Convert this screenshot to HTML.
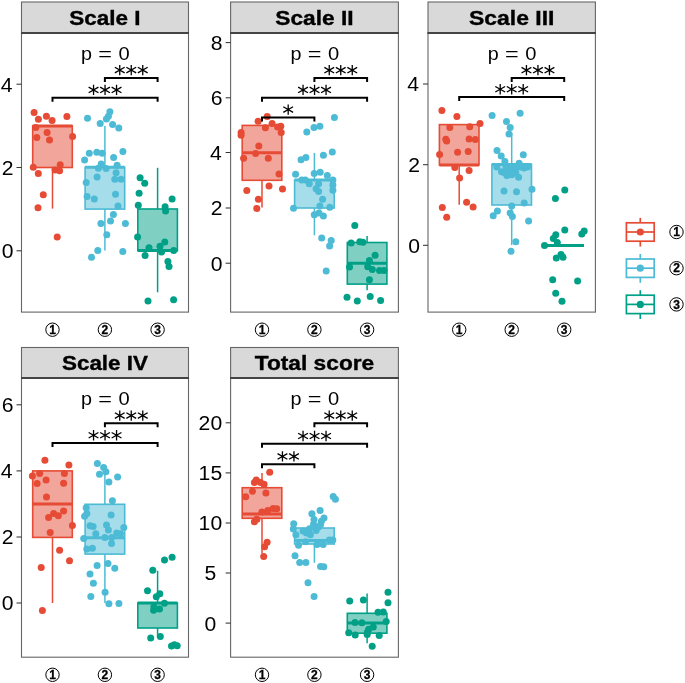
<!DOCTYPE html><html><head><meta charset="utf-8"><style>html,body{margin:0;padding:0;background:#fff;}svg{display:block;will-change:transform;}</style></head><body><svg width="685" height="683" viewBox="0 0 685 683" font-family="'Liberation Sans', sans-serif"><rect width="685" height="683" fill="#fff"/><rect x="21.5" y="2" width="167" height="31" fill="#D9D9D9" stroke="#666666" stroke-width="1.1"/><text x="105" y="24.7" text-anchor="middle" font-weight="bold" font-size="19.8" textLength="71.22" lengthAdjust="spacingAndGlyphs" stroke="#000" stroke-width="0.35">Scale I</text><rect x="21.5" y="33" width="167" height="279.1" fill="#fff"/><line x1="52.5" y1="167.5" x2="52.5" y2="208.6" stroke="#E64B35" stroke-width="1.5"/><rect x="32.7" y="125.9" width="39.6" height="41.6" fill="#F2A59A" stroke="#E64B35" stroke-width="1.6"/><line x1="32.7" y1="125.9" x2="72.3" y2="125.9" stroke="#E64B35" stroke-width="3"/><line x1="104.9" y1="126.1" x2="104.9" y2="167.3" stroke="#4DBBD5" stroke-width="1.5"/><line x1="104.9" y1="209.1" x2="104.9" y2="250.4" stroke="#4DBBD5" stroke-width="1.5"/><rect x="85.1" y="167.3" width="39.6" height="41.8" fill="#A6DDEA" stroke="#4DBBD5" stroke-width="1.6"/><line x1="85.1" y1="167.3" x2="124.7" y2="167.3" stroke="#4DBBD5" stroke-width="3"/><line x1="157.6" y1="167.8" x2="157.6" y2="209" stroke="#00A087" stroke-width="1.5"/><line x1="157.6" y1="250.6" x2="157.6" y2="292.3" stroke="#00A087" stroke-width="1.5"/><rect x="137.8" y="209" width="39.6" height="41.6" fill="#80CFC3" stroke="#00A087" stroke-width="1.6"/><line x1="137.8" y1="250.6" x2="177.4" y2="250.6" stroke="#00A087" stroke-width="3"/><g fill="#E64B35"><circle cx="34.1" cy="112.5" r="3.5"/><circle cx="38.4" cy="119.3" r="3.5"/><circle cx="46.4" cy="116.2" r="3.5"/><circle cx="52.1" cy="120.5" r="3.5"/><circle cx="66.9" cy="116.4" r="3.5"/><circle cx="35.8" cy="127.6" r="3.5"/><circle cx="47.1" cy="132.6" r="3.5"/><circle cx="36.8" cy="137.6" r="3.5"/><circle cx="49.5" cy="140.1" r="3.5"/><circle cx="72.6" cy="136.5" r="3.5"/><circle cx="33.3" cy="167.2" r="3.5"/><circle cx="38.3" cy="173.4" r="3.5"/><circle cx="55.1" cy="169.9" r="3.5"/><circle cx="60.2" cy="164.7" r="3.5"/><circle cx="59.6" cy="170.7" r="3.5"/><circle cx="43.3" cy="194.7" r="3.5"/><circle cx="38" cy="207.7" r="3.5"/><circle cx="57.2" cy="237" r="3.5"/></g><g fill="#4DBBD5"><circle cx="87.5" cy="118.3" r="3.5"/><circle cx="109.9" cy="111.8" r="3.5"/><circle cx="108.4" cy="116.2" r="3.5"/><circle cx="106.4" cy="118.9" r="3.5"/><circle cx="100.2" cy="123.6" r="3.5"/><circle cx="112.6" cy="124.6" r="3.5"/><circle cx="118.8" cy="128" r="3.5"/><circle cx="89.3" cy="153.3" r="3.5"/><circle cx="96.8" cy="152.3" r="3.5"/><circle cx="102.2" cy="153.3" r="3.5"/><circle cx="122.9" cy="151.6" r="3.5"/><circle cx="84.6" cy="160" r="3.5"/><circle cx="113.6" cy="157.5" r="3.5"/><circle cx="101.2" cy="164.1" r="3.5"/><circle cx="98.4" cy="168.2" r="3.5"/><circle cx="106.1" cy="168.5" r="3.5"/><circle cx="117.1" cy="165.3" r="3.5"/><circle cx="116.1" cy="172.8" r="3.5"/><circle cx="97.1" cy="177" r="3.5"/><circle cx="114.8" cy="179.2" r="3.5"/><circle cx="121.1" cy="179.2" r="3.5"/><circle cx="86.2" cy="182.4" r="3.5"/><circle cx="87.1" cy="196.4" r="3.5"/><circle cx="94.3" cy="199" r="3.5"/><circle cx="115.5" cy="194.3" r="3.5"/><circle cx="118" cy="205.9" r="3.5"/><circle cx="113.4" cy="214.6" r="3.5"/><circle cx="110.5" cy="221" r="3.5"/><circle cx="100.9" cy="223.5" r="3.5"/><circle cx="125.4" cy="223.6" r="3.5"/><circle cx="106.8" cy="234.7" r="3.5"/><circle cx="97.8" cy="250.5" r="3.5"/><circle cx="91.5" cy="257.3" r="3.5"/><circle cx="122.8" cy="251.4" r="3.5"/></g><g fill="#00A087"><circle cx="140.1" cy="177.8" r="3.5"/><circle cx="144.7" cy="183.2" r="3.5"/><circle cx="139.1" cy="193.3" r="3.5"/><circle cx="138.3" cy="205.2" r="3.5"/><circle cx="172.1" cy="199.1" r="3.5"/><circle cx="165.1" cy="206.8" r="3.5"/><circle cx="165.6" cy="210.9" r="3.5"/><circle cx="137.6" cy="237" r="3.5"/><circle cx="164.8" cy="242.1" r="3.5"/><circle cx="160" cy="246.2" r="3.5"/><circle cx="149" cy="247.7" r="3.5"/><circle cx="173.7" cy="250.6" r="3.5"/><circle cx="161.5" cy="252" r="3.5"/><circle cx="145.1" cy="255.5" r="3.5"/><circle cx="167.9" cy="261.4" r="3.5"/><circle cx="169" cy="266.6" r="3.5"/><circle cx="148" cy="301" r="3.5"/><circle cx="173.6" cy="299.7" r="3.5"/></g><rect x="21.5" y="33" width="167" height="279.1" fill="none" stroke="#666666" stroke-width="1.1"/><line x1="21.05" y1="33" x2="188.95" y2="33" stroke="#444" stroke-width="2"/><line x1="16.5" y1="84.2" x2="21.5" y2="84.2" stroke="#333" stroke-width="1.05"/><text x="12.6" y="91.6" text-anchor="end" font-size="19.6" textLength="11.77" lengthAdjust="spacingAndGlyphs">4</text><line x1="16.5" y1="167.5" x2="21.5" y2="167.5" stroke="#333" stroke-width="1.05"/><text x="13.5" y="174.9" text-anchor="end" font-size="19.6" textLength="11.77" lengthAdjust="spacingAndGlyphs">2</text><line x1="16.5" y1="250.8" x2="21.5" y2="250.8" stroke="#333" stroke-width="1.05"/><text x="13.5" y="258.2" text-anchor="end" font-size="19.6" textLength="11.77" lengthAdjust="spacingAndGlyphs">0</text><circle cx="52.5" cy="329.7" r="6.7" fill="none" stroke="#000" stroke-width="1"/><text x="52.5" y="333.9" text-anchor="middle" font-size="12" font-weight="bold" stroke="#000" stroke-width="0.3">1</text><circle cx="104.9" cy="329.7" r="6.7" fill="none" stroke="#000" stroke-width="1"/><text x="104.9" y="333.9" text-anchor="middle" font-size="12" font-weight="bold" stroke="#000" stroke-width="0.3">2</text><circle cx="157.6" cy="329.7" r="6.7" fill="none" stroke="#000" stroke-width="1"/><text x="157.6" y="333.9" text-anchor="middle" font-size="12" font-weight="bold" stroke="#000" stroke-width="0.3">3</text><text x="86.45" y="59.8" text-anchor="middle" font-size="19.0" textLength="11.0" lengthAdjust="spacingAndGlyphs">p</text><text x="105.05" y="59.8" text-anchor="middle" font-size="19.0" textLength="13.7" lengthAdjust="spacingAndGlyphs">=</text><text x="124.15" y="59.8" text-anchor="middle" font-size="19.0" textLength="11.2" lengthAdjust="spacingAndGlyphs">0</text><path d="M104.9 81.9V77.9H157.6V81.9" fill="none" stroke="#000" stroke-width="2.0"/><g stroke="#000" stroke-width="1.3" stroke-linecap="butt"><path d="M119.75 64.95V75.25M114.85 67.3L124.65 72.9M114.85 72.9L124.65 67.3"/><path d="M131.25 64.95V75.25M126.35 67.3L136.15 72.9M126.35 72.9L136.15 67.3"/><path d="M142.75 64.95V75.25M137.85 67.3L147.65 72.9M137.85 72.9L147.65 67.3"/></g><path d="M52.5 101.75V97.75H157.6V101.75" fill="none" stroke="#000" stroke-width="2.0"/><g stroke="#000" stroke-width="1.3" stroke-linecap="butt"><path d="M93.55 84.8V95.1M88.65 87.15L98.45 92.75M88.65 92.75L98.45 87.15"/><path d="M105.05 84.8V95.1M100.15 87.15L109.95 92.75M100.15 92.75L109.95 87.15"/><path d="M116.55 84.8V95.1M111.65 87.15L121.45 92.75M111.65 92.75L121.45 87.15"/></g><rect x="230.6" y="2" width="167.8" height="31" fill="#D9D9D9" stroke="#666666" stroke-width="1.1"/><text x="314.5" y="24.7" text-anchor="middle" font-weight="bold" font-size="19.8" textLength="78.33" lengthAdjust="spacingAndGlyphs" stroke="#000" stroke-width="0.35">Scale II</text><rect x="230.6" y="33" width="167.8" height="279.1" fill="#fff"/><line x1="262" y1="180.3" x2="262" y2="207.6" stroke="#E64B35" stroke-width="1.5"/><rect x="242.2" y="125.4" width="39.6" height="54.9" fill="#F2A59A" stroke="#E64B35" stroke-width="1.6"/><line x1="242.2" y1="152.8" x2="281.8" y2="152.8" stroke="#E64B35" stroke-width="3"/><line x1="314.4" y1="152.9" x2="314.4" y2="180" stroke="#4DBBD5" stroke-width="1.5"/><line x1="314.4" y1="208" x2="314.4" y2="235.3" stroke="#4DBBD5" stroke-width="1.5"/><rect x="294.6" y="180" width="39.6" height="28" fill="#A6DDEA" stroke="#4DBBD5" stroke-width="1.6"/><line x1="294.6" y1="180" x2="334.2" y2="180" stroke="#4DBBD5" stroke-width="3"/><line x1="367.1" y1="236.1" x2="367.1" y2="242.5" stroke="#00A087" stroke-width="1.5"/><line x1="367.1" y1="284.1" x2="367.1" y2="290.3" stroke="#00A087" stroke-width="1.5"/><rect x="347.3" y="242.5" width="39.6" height="41.6" fill="#80CFC3" stroke="#00A087" stroke-width="1.6"/><line x1="347.3" y1="263.3" x2="386.9" y2="263.3" stroke="#00A087" stroke-width="3"/><g fill="#E64B35"><circle cx="267.2" cy="116.4" r="3.5"/><circle cx="258.1" cy="121.2" r="3.5"/><circle cx="272.1" cy="123.4" r="3.5"/><circle cx="280.8" cy="126.2" r="3.5"/><circle cx="265.4" cy="127.7" r="3.5"/><circle cx="281.2" cy="132.5" r="3.5"/><circle cx="277.6" cy="126.9" r="3.5"/><circle cx="241.1" cy="132.4" r="3.5"/><circle cx="241.1" cy="135.3" r="3.5"/><circle cx="258.8" cy="146.1" r="3.5"/><circle cx="255.6" cy="153.5" r="3.5"/><circle cx="243.6" cy="158.3" r="3.5"/><circle cx="268.3" cy="158.3" r="3.5"/><circle cx="279" cy="174.1" r="3.5"/><circle cx="269" cy="186" r="3.5"/><circle cx="246.8" cy="190.6" r="3.5"/><circle cx="282.5" cy="189.1" r="3.5"/><circle cx="258.4" cy="199.3" r="3.5"/><circle cx="256.8" cy="208.4" r="3.5"/></g><g fill="#4DBBD5"><circle cx="334.4" cy="117.4" r="3.5"/><circle cx="319.9" cy="126.2" r="3.5"/><circle cx="314" cy="127.4" r="3.5"/><circle cx="306.8" cy="132.1" r="3.5"/><circle cx="332.3" cy="152" r="3.5"/><circle cx="323.4" cy="155.2" r="3.5"/><circle cx="305.9" cy="157.6" r="3.5"/><circle cx="301" cy="159.8" r="3.5"/><circle cx="295.6" cy="174.2" r="3.5"/><circle cx="314.2" cy="173.6" r="3.5"/><circle cx="320.2" cy="172.3" r="3.5"/><circle cx="327.3" cy="175.5" r="3.5"/><circle cx="332.9" cy="180" r="3.5"/><circle cx="301.8" cy="180" r="3.5"/><circle cx="305.3" cy="180" r="3.5"/><circle cx="309.3" cy="183.7" r="3.5"/><circle cx="318.6" cy="183.7" r="3.5"/><circle cx="332.9" cy="184.9" r="3.5"/><circle cx="316.1" cy="188.7" r="3.5"/><circle cx="318.6" cy="191.4" r="3.5"/><circle cx="332.9" cy="190.2" r="3.5"/><circle cx="322.6" cy="199.2" r="3.5"/><circle cx="319.9" cy="206.1" r="3.5"/><circle cx="329.8" cy="207.3" r="3.5"/><circle cx="293.5" cy="208.2" r="3.5"/><circle cx="314.3" cy="214.8" r="3.5"/><circle cx="318.9" cy="212.9" r="3.5"/><circle cx="323.4" cy="216" r="3.5"/><circle cx="321.7" cy="237.9" r="3.5"/><circle cx="331.2" cy="240.4" r="3.5"/><circle cx="329.6" cy="245.9" r="3.5"/><circle cx="326.2" cy="271" r="3.5"/></g><g fill="#00A087"><circle cx="354.8" cy="225.5" r="3.5"/><circle cx="351.1" cy="243" r="3.5"/><circle cx="359.8" cy="241.8" r="3.5"/><circle cx="362.9" cy="242.2" r="3.5"/><circle cx="375.1" cy="255.2" r="3.5"/><circle cx="369.4" cy="260.4" r="3.5"/><circle cx="349.5" cy="267" r="3.5"/><circle cx="367.7" cy="266.7" r="3.5"/><circle cx="372.3" cy="269.5" r="3.5"/><circle cx="379.5" cy="270.4" r="3.5"/><circle cx="384.1" cy="270.4" r="3.5"/><circle cx="369.4" cy="279.7" r="3.5"/><circle cx="347" cy="297.2" r="3.5"/><circle cx="357.3" cy="300.9" r="3.5"/><circle cx="370.2" cy="296.5" r="3.5"/><circle cx="380.6" cy="300.6" r="3.5"/></g><rect x="230.6" y="33" width="167.8" height="279.1" fill="none" stroke="#666666" stroke-width="1.1"/><line x1="230.15" y1="33" x2="398.85" y2="33" stroke="#444" stroke-width="2"/><line x1="225.6" y1="42.6" x2="230.6" y2="42.6" stroke="#333" stroke-width="1.05"/><text x="222.6" y="50" text-anchor="end" font-size="19.6" textLength="11.77" lengthAdjust="spacingAndGlyphs">8</text><line x1="225.6" y1="97.8" x2="230.6" y2="97.8" stroke="#333" stroke-width="1.05"/><text x="222.6" y="105.2" text-anchor="end" font-size="19.6" textLength="11.77" lengthAdjust="spacingAndGlyphs">6</text><line x1="225.6" y1="152.5" x2="230.6" y2="152.5" stroke="#333" stroke-width="1.05"/><text x="221.7" y="159.9" text-anchor="end" font-size="19.6" textLength="11.77" lengthAdjust="spacingAndGlyphs">4</text><line x1="225.6" y1="208" x2="230.6" y2="208" stroke="#333" stroke-width="1.05"/><text x="222.6" y="215.4" text-anchor="end" font-size="19.6" textLength="11.77" lengthAdjust="spacingAndGlyphs">2</text><line x1="225.6" y1="263.2" x2="230.6" y2="263.2" stroke="#333" stroke-width="1.05"/><text x="222.6" y="270.6" text-anchor="end" font-size="19.6" textLength="11.77" lengthAdjust="spacingAndGlyphs">0</text><circle cx="262" cy="329.7" r="6.7" fill="none" stroke="#000" stroke-width="1"/><text x="262" y="333.9" text-anchor="middle" font-size="12" font-weight="bold" stroke="#000" stroke-width="0.3">1</text><circle cx="314.4" cy="329.7" r="6.7" fill="none" stroke="#000" stroke-width="1"/><text x="314.4" y="333.9" text-anchor="middle" font-size="12" font-weight="bold" stroke="#000" stroke-width="0.3">2</text><circle cx="367.1" cy="329.7" r="6.7" fill="none" stroke="#000" stroke-width="1"/><text x="367.1" y="333.9" text-anchor="middle" font-size="12" font-weight="bold" stroke="#000" stroke-width="0.3">3</text><text x="295.95" y="59.8" text-anchor="middle" font-size="19.0" textLength="11.0" lengthAdjust="spacingAndGlyphs">p</text><text x="314.55" y="59.8" text-anchor="middle" font-size="19.0" textLength="13.7" lengthAdjust="spacingAndGlyphs">=</text><text x="333.65" y="59.8" text-anchor="middle" font-size="19.0" textLength="11.2" lengthAdjust="spacingAndGlyphs">0</text><path d="M314.4 82V78H367.1V82" fill="none" stroke="#000" stroke-width="2.0"/><g stroke="#000" stroke-width="1.3" stroke-linecap="butt"><path d="M329.25 65.05V75.35M324.35 67.4L334.15 73M324.35 73L334.15 67.4"/><path d="M340.75 65.05V75.35M335.85 67.4L345.65 73M335.85 73L345.65 67.4"/><path d="M352.25 65.05V75.35M347.35 67.4L357.15 73M347.35 73L357.15 67.4"/></g><path d="M262 101.75V97.75H367.1V101.75" fill="none" stroke="#000" stroke-width="2.0"/><g stroke="#000" stroke-width="1.3" stroke-linecap="butt"><path d="M303.05 84.8V95.1M298.15 87.15L307.95 92.75M298.15 92.75L307.95 87.15"/><path d="M314.55 84.8V95.1M309.65 87.15L319.45 92.75M309.65 92.75L319.45 87.15"/><path d="M326.05 84.8V95.1M321.15 87.15L330.95 92.75M321.15 92.75L330.95 87.15"/></g><path d="M262 121.4V117.4H314.4V121.4" fill="none" stroke="#000" stroke-width="2.0"/><g stroke="#000" stroke-width="1.3" stroke-linecap="butt"><path d="M288.2 104.45V114.75M283.3 106.8L293.1 112.4M283.3 112.4L293.1 106.8"/></g><rect x="428" y="2" width="167.4" height="31" fill="#D9D9D9" stroke="#666666" stroke-width="1.1"/><text x="511.7" y="24.7" text-anchor="middle" font-weight="bold" font-size="19.8" textLength="85.43" lengthAdjust="spacingAndGlyphs" stroke="#000" stroke-width="0.35">Scale III</text><rect x="428" y="33" width="167.4" height="279.1" fill="#fff"/><line x1="459.2" y1="165" x2="459.2" y2="204.8" stroke="#E64B35" stroke-width="1.5"/><rect x="439.4" y="124.6" width="39.6" height="40.4" fill="#F2A59A" stroke="#E64B35" stroke-width="1.6"/><line x1="439.4" y1="165" x2="479" y2="165" stroke="#E64B35" stroke-width="3"/><line x1="511.7" y1="133" x2="511.7" y2="164.4" stroke="#4DBBD5" stroke-width="1.5"/><line x1="511.7" y1="205" x2="511.7" y2="245.1" stroke="#4DBBD5" stroke-width="1.5"/><rect x="491.9" y="164.4" width="39.6" height="40.6" fill="#A6DDEA" stroke="#4DBBD5" stroke-width="1.6"/><line x1="491.9" y1="164.4" x2="531.5" y2="164.4" stroke="#4DBBD5" stroke-width="3"/><line x1="544.4" y1="245.5" x2="584" y2="245.5" stroke="#00A087" stroke-width="3"/><g fill="#E64B35"><circle cx="441.9" cy="110.6" r="3.5"/><circle cx="456.9" cy="116.4" r="3.5"/><circle cx="480" cy="123.4" r="3.5"/><circle cx="449.8" cy="127.6" r="3.5"/><circle cx="469.7" cy="126.8" r="3.5"/><circle cx="445.8" cy="139.2" r="3.5"/><circle cx="446.7" cy="141.1" r="3.5"/><circle cx="469.1" cy="139" r="3.5"/><circle cx="475.3" cy="139.6" r="3.5"/><circle cx="439.6" cy="154.4" r="3.5"/><circle cx="457.6" cy="152.3" r="3.5"/><circle cx="468.2" cy="151.6" r="3.5"/><circle cx="454.8" cy="167.6" r="3.5"/><circle cx="469.1" cy="170.6" r="3.5"/><circle cx="459.6" cy="177.9" r="3.5"/><circle cx="466.6" cy="202.3" r="3.5"/><circle cx="473.1" cy="207" r="3.5"/><circle cx="442.3" cy="207.5" r="3.5"/><circle cx="446.7" cy="217.2" r="3.5"/></g><g fill="#4DBBD5"><circle cx="492.1" cy="115.6" r="3.5"/><circle cx="520.1" cy="113.3" r="3.5"/><circle cx="506.5" cy="121.4" r="3.5"/><circle cx="510.2" cy="127.6" r="3.5"/><circle cx="509" cy="134" r="3.5"/><circle cx="497" cy="150.4" r="3.5"/><circle cx="501.2" cy="156" r="3.5"/><circle cx="504.9" cy="161.4" r="3.5"/><circle cx="523.3" cy="154.8" r="3.5"/><circle cx="519.1" cy="163.3" r="3.5"/><circle cx="496.8" cy="166.9" r="3.5"/><circle cx="501.5" cy="171.8" r="3.5"/><circle cx="506.9" cy="175.6" r="3.5"/><circle cx="512.4" cy="170.7" r="3.5"/><circle cx="518.6" cy="177.2" r="3.5"/><circle cx="527.6" cy="167" r="3.5"/><circle cx="511.7" cy="174.7" r="3.5"/><circle cx="506" cy="166.5" r="3.5"/><circle cx="510.5" cy="166.8" r="3.5"/><circle cx="515" cy="168" r="3.5"/><circle cx="520.5" cy="167" r="3.5"/><circle cx="524" cy="168" r="3.5"/><circle cx="515.8" cy="172.5" r="3.5"/><circle cx="504.5" cy="172.8" r="3.5"/><circle cx="509.5" cy="172" r="3.5"/><circle cx="504" cy="191.1" r="3.5"/><circle cx="516.5" cy="191.7" r="3.5"/><circle cx="532" cy="189.2" r="3.5"/><circle cx="524.2" cy="202.9" r="3.5"/><circle cx="511.7" cy="206" r="3.5"/><circle cx="497.4" cy="211" r="3.5"/><circle cx="493.2" cy="215.8" r="3.5"/><circle cx="510.2" cy="212.9" r="3.5"/><circle cx="512.4" cy="216.6" r="3.5"/><circle cx="528.6" cy="220.9" r="3.5"/><circle cx="515.8" cy="241.8" r="3.5"/><circle cx="511" cy="251.3" r="3.5"/></g><g fill="#00A087"><circle cx="564.8" cy="189.9" r="3.5"/><circle cx="555.4" cy="198.5" r="3.5"/><circle cx="564.8" cy="230" r="3.5"/><circle cx="581.8" cy="234" r="3.5"/><circle cx="584.2" cy="231" r="3.5"/><circle cx="555.8" cy="234.8" r="3.5"/><circle cx="553.3" cy="238.6" r="3.5"/><circle cx="557.3" cy="242.6" r="3.5"/><circle cx="544.5" cy="245.6" r="3.5"/><circle cx="556.3" cy="258" r="3.5"/><circle cx="563" cy="257.3" r="3.5"/><circle cx="561" cy="254.5" r="3.5"/><circle cx="552.7" cy="279.7" r="3.5"/><circle cx="577.6" cy="281.1" r="3.5"/><circle cx="555.7" cy="293.3" r="3.5"/><circle cx="562" cy="301.2" r="3.5"/></g><rect x="428" y="33" width="167.4" height="279.1" fill="none" stroke="#666666" stroke-width="1.1"/><line x1="427.55" y1="33" x2="595.85" y2="33" stroke="#444" stroke-width="2"/><line x1="423" y1="84" x2="428" y2="84" stroke="#333" stroke-width="1.05"/><text x="419.1" y="91.4" text-anchor="end" font-size="19.6" textLength="11.77" lengthAdjust="spacingAndGlyphs">4</text><line x1="423" y1="164.7" x2="428" y2="164.7" stroke="#333" stroke-width="1.05"/><text x="420" y="172.1" text-anchor="end" font-size="19.6" textLength="11.77" lengthAdjust="spacingAndGlyphs">2</text><line x1="423" y1="245.3" x2="428" y2="245.3" stroke="#333" stroke-width="1.05"/><text x="420" y="252.7" text-anchor="end" font-size="19.6" textLength="11.77" lengthAdjust="spacingAndGlyphs">0</text><circle cx="459.2" cy="329.7" r="6.7" fill="none" stroke="#000" stroke-width="1"/><text x="459.2" y="333.9" text-anchor="middle" font-size="12" font-weight="bold" stroke="#000" stroke-width="0.3">1</text><circle cx="511.7" cy="329.7" r="6.7" fill="none" stroke="#000" stroke-width="1"/><text x="511.7" y="333.9" text-anchor="middle" font-size="12" font-weight="bold" stroke="#000" stroke-width="0.3">2</text><circle cx="564.2" cy="329.7" r="6.7" fill="none" stroke="#000" stroke-width="1"/><text x="564.2" y="333.9" text-anchor="middle" font-size="12" font-weight="bold" stroke="#000" stroke-width="0.3">3</text><text x="493.15" y="59.8" text-anchor="middle" font-size="19.0" textLength="11.0" lengthAdjust="spacingAndGlyphs">p</text><text x="511.75" y="59.8" text-anchor="middle" font-size="19.0" textLength="13.7" lengthAdjust="spacingAndGlyphs">=</text><text x="530.85" y="59.8" text-anchor="middle" font-size="19.0" textLength="11.2" lengthAdjust="spacingAndGlyphs">0</text><path d="M511.7 81.95V77.95H564.2V81.95" fill="none" stroke="#000" stroke-width="2.0"/><g stroke="#000" stroke-width="1.3" stroke-linecap="butt"><path d="M526.45 65V75.3M521.55 67.35L531.35 72.95M521.55 72.95L531.35 67.35"/><path d="M537.95 65V75.3M533.05 67.35L542.85 72.95M533.05 72.95L542.85 67.35"/><path d="M549.45 65V75.3M544.55 67.35L554.35 72.95M544.55 72.95L554.35 67.35"/></g><path d="M459.2 101.05V97.05H564.2V101.05" fill="none" stroke="#000" stroke-width="2.0"/><g stroke="#000" stroke-width="1.3" stroke-linecap="butt"><path d="M500.2 84.1V94.4M495.3 86.45L505.1 92.05M495.3 92.05L505.1 86.45"/><path d="M511.7 84.1V94.4M506.8 86.45L516.6 92.05M506.8 92.05L516.6 86.45"/><path d="M523.2 84.1V94.4M518.3 86.45L528.1 92.05M518.3 92.05L528.1 86.45"/></g><rect x="21.5" y="347.5" width="167" height="30.5" fill="#D9D9D9" stroke="#666666" stroke-width="1.1"/><text x="105" y="370.2" text-anchor="middle" font-weight="bold" font-size="19.8" textLength="86.01" lengthAdjust="spacingAndGlyphs" stroke="#000" stroke-width="0.35">Scale IV</text><rect x="21.5" y="378" width="167" height="279.2" fill="#fff"/><line x1="52.5" y1="537.4" x2="52.5" y2="603" stroke="#E64B35" stroke-width="1.5"/><rect x="32.7" y="470.9" width="39.6" height="66.5" fill="#F2A59A" stroke="#E64B35" stroke-width="1.6"/><line x1="32.7" y1="504.1" x2="72.3" y2="504.1" stroke="#E64B35" stroke-width="3"/><line x1="104.9" y1="470.9" x2="104.9" y2="504.3" stroke="#4DBBD5" stroke-width="1.5"/><line x1="104.9" y1="554.1" x2="104.9" y2="603" stroke="#4DBBD5" stroke-width="1.5"/><rect x="85.1" y="504.3" width="39.6" height="49.8" fill="#A6DDEA" stroke="#4DBBD5" stroke-width="1.6"/><line x1="85.1" y1="537.8" x2="124.7" y2="537.8" stroke="#4DBBD5" stroke-width="3"/><line x1="157.6" y1="570.8" x2="157.6" y2="603" stroke="#00A087" stroke-width="1.5"/><line x1="157.6" y1="628" x2="157.6" y2="636.1" stroke="#00A087" stroke-width="1.5"/><rect x="137.8" y="603" width="39.6" height="25" fill="#80CFC3" stroke="#00A087" stroke-width="1.6"/><line x1="137.8" y1="603" x2="177.4" y2="603" stroke="#00A087" stroke-width="3"/><g fill="#E64B35"><circle cx="44.9" cy="460.2" r="3.5"/><circle cx="68.9" cy="464.9" r="3.5"/><circle cx="39.7" cy="473.4" r="3.5"/><circle cx="32.4" cy="476.1" r="3.5"/><circle cx="64.4" cy="473.6" r="3.5"/><circle cx="46.1" cy="480.1" r="3.5"/><circle cx="37.1" cy="483.6" r="3.5"/><circle cx="63.6" cy="483.3" r="3.5"/><circle cx="46.5" cy="497" r="3.5"/><circle cx="63.6" cy="510.9" r="3.5"/><circle cx="53.6" cy="513.4" r="3.5"/><circle cx="58.3" cy="515.8" r="3.5"/><circle cx="48.6" cy="517.4" r="3.5"/><circle cx="72.4" cy="525.6" r="3.5"/><circle cx="50.2" cy="532.4" r="3.5"/><circle cx="59.6" cy="550.2" r="3.5"/><circle cx="69.5" cy="560.8" r="3.5"/><circle cx="41.2" cy="567.6" r="3.5"/><circle cx="42.4" cy="610.5" r="3.5"/></g><g fill="#4DBBD5"><circle cx="97.4" cy="463.6" r="3.5"/><circle cx="103.6" cy="467.4" r="3.5"/><circle cx="105.9" cy="471.7" r="3.5"/><circle cx="99.5" cy="474.2" r="3.5"/><circle cx="117.6" cy="477" r="3.5"/><circle cx="108.9" cy="481.9" r="3.5"/><circle cx="112.4" cy="500.7" r="3.5"/><circle cx="86.2" cy="507.8" r="3.5"/><circle cx="86.8" cy="513.4" r="3.5"/><circle cx="84.6" cy="516.2" r="3.5"/><circle cx="111.1" cy="515" r="3.5"/><circle cx="90" cy="525.8" r="3.5"/><circle cx="93.1" cy="526.5" r="3.5"/><circle cx="106.5" cy="525" r="3.5"/><circle cx="108.4" cy="529.9" r="3.5"/><circle cx="123.8" cy="527.4" r="3.5"/><circle cx="95.8" cy="533.7" r="3.5"/><circle cx="116.7" cy="533" r="3.5"/><circle cx="120.4" cy="533.7" r="3.5"/><circle cx="83.7" cy="538.4" r="3.5"/><circle cx="104.9" cy="537.4" r="3.5"/><circle cx="111.7" cy="537.4" r="3.5"/><circle cx="111.5" cy="543.4" r="3.5"/><circle cx="86.8" cy="548.9" r="3.5"/><circle cx="92.4" cy="548.2" r="3.5"/><circle cx="97.1" cy="565.4" r="3.5"/><circle cx="108" cy="563.5" r="3.5"/><circle cx="114.8" cy="568.3" r="3.5"/><circle cx="90" cy="574.1" r="3.5"/><circle cx="93.4" cy="583.3" r="3.5"/><circle cx="105.1" cy="592.3" r="3.5"/><circle cx="90.8" cy="596.4" r="3.5"/><circle cx="108.9" cy="603.8" r="3.5"/><circle cx="118.9" cy="603.5" r="3.5"/></g><g fill="#00A087"><circle cx="172.1" cy="557.3" r="3.5"/><circle cx="164.5" cy="560" r="3.5"/><circle cx="152.8" cy="570.2" r="3.5"/><circle cx="147.5" cy="590.8" r="3.5"/><circle cx="159.8" cy="593.7" r="3.5"/><circle cx="156.3" cy="596.8" r="3.5"/><circle cx="164.4" cy="603.3" r="3.5"/><circle cx="153.9" cy="606.7" r="3.5"/><circle cx="159.5" cy="609.1" r="3.5"/><circle cx="153.6" cy="610.3" r="3.5"/><circle cx="150.7" cy="638" r="3.5"/><circle cx="160.3" cy="636.4" r="3.5"/><circle cx="171.5" cy="646" r="3.5"/><circle cx="177.2" cy="645.7" r="3.5"/><circle cx="174.4" cy="644.7" r="3.5"/></g><rect x="21.5" y="378" width="167" height="279.2" fill="none" stroke="#666666" stroke-width="1.1"/><line x1="21.05" y1="378" x2="188.95" y2="378" stroke="#444" stroke-width="2"/><line x1="16.5" y1="404.8" x2="21.5" y2="404.8" stroke="#333" stroke-width="1.05"/><text x="13.5" y="412.2" text-anchor="end" font-size="19.6" textLength="11.77" lengthAdjust="spacingAndGlyphs">6</text><line x1="16.5" y1="470.9" x2="21.5" y2="470.9" stroke="#333" stroke-width="1.05"/><text x="12.6" y="478.3" text-anchor="end" font-size="19.6" textLength="11.77" lengthAdjust="spacingAndGlyphs">4</text><line x1="16.5" y1="537" x2="21.5" y2="537" stroke="#333" stroke-width="1.05"/><text x="13.5" y="544.4" text-anchor="end" font-size="19.6" textLength="11.77" lengthAdjust="spacingAndGlyphs">2</text><line x1="16.5" y1="603" x2="21.5" y2="603" stroke="#333" stroke-width="1.05"/><text x="13.5" y="610.4" text-anchor="end" font-size="19.6" textLength="11.77" lengthAdjust="spacingAndGlyphs">0</text><circle cx="52.5" cy="674.8" r="6.7" fill="none" stroke="#000" stroke-width="1"/><text x="52.5" y="679" text-anchor="middle" font-size="12" font-weight="bold" stroke="#000" stroke-width="0.3">1</text><circle cx="104.9" cy="674.8" r="6.7" fill="none" stroke="#000" stroke-width="1"/><text x="104.9" y="679" text-anchor="middle" font-size="12" font-weight="bold" stroke="#000" stroke-width="0.3">2</text><circle cx="157.6" cy="674.8" r="6.7" fill="none" stroke="#000" stroke-width="1"/><text x="157.6" y="679" text-anchor="middle" font-size="12" font-weight="bold" stroke="#000" stroke-width="0.3">3</text><text x="86.45" y="405.3" text-anchor="middle" font-size="19.0" textLength="11.0" lengthAdjust="spacingAndGlyphs">p</text><text x="105.05" y="405.3" text-anchor="middle" font-size="19.0" textLength="13.7" lengthAdjust="spacingAndGlyphs">=</text><text x="124.15" y="405.3" text-anchor="middle" font-size="19.0" textLength="11.2" lengthAdjust="spacingAndGlyphs">0</text><path d="M104.9 427.35V423.35H157.6V427.35" fill="none" stroke="#000" stroke-width="2.0"/><g stroke="#000" stroke-width="1.3" stroke-linecap="butt"><path d="M119.75 410.4V420.7M114.85 412.75L124.65 418.35M114.85 418.35L124.65 412.75"/><path d="M131.25 410.4V420.7M126.35 412.75L136.15 418.35M126.35 418.35L136.15 412.75"/><path d="M142.75 410.4V420.7M137.85 412.75L147.65 418.35M137.85 418.35L147.65 412.75"/></g><path d="M52.5 447.05V443.05H157.6V447.05" fill="none" stroke="#000" stroke-width="2.0"/><g stroke="#000" stroke-width="1.3" stroke-linecap="butt"><path d="M93.55 430.1V440.4M88.65 432.45L98.45 438.05M88.65 438.05L98.45 432.45"/><path d="M105.05 430.1V440.4M100.15 432.45L109.95 438.05M100.15 438.05L109.95 432.45"/><path d="M116.55 430.1V440.4M111.65 432.45L121.45 438.05M111.65 438.05L121.45 432.45"/></g><rect x="230.6" y="347.5" width="167.8" height="30.5" fill="#D9D9D9" stroke="#666666" stroke-width="1.1"/><text x="314.5" y="370.2" text-anchor="middle" font-weight="bold" font-size="19.8" textLength="119.55" lengthAdjust="spacingAndGlyphs" stroke="#000" stroke-width="0.35">Total score</text><rect x="230.6" y="378" width="167.8" height="279.2" fill="#fff"/><line x1="262" y1="473" x2="262" y2="487.7" stroke="#E64B35" stroke-width="1.5"/><line x1="262" y1="518.3" x2="262" y2="553.4" stroke="#E64B35" stroke-width="1.5"/><rect x="242.2" y="487.7" width="39.6" height="30.6" fill="#F2A59A" stroke="#E64B35" stroke-width="1.6"/><line x1="242.2" y1="514" x2="281.8" y2="514" stroke="#E64B35" stroke-width="3"/><line x1="314.4" y1="513.6" x2="314.4" y2="528" stroke="#4DBBD5" stroke-width="1.5"/><line x1="314.4" y1="544" x2="314.4" y2="562.8" stroke="#4DBBD5" stroke-width="1.5"/><rect x="294.6" y="528" width="39.6" height="16" fill="#A6DDEA" stroke="#4DBBD5" stroke-width="1.6"/><line x1="294.6" y1="540.5" x2="334.2" y2="540.5" stroke="#4DBBD5" stroke-width="3"/><line x1="367.1" y1="593.5" x2="367.1" y2="613.3" stroke="#00A087" stroke-width="1.5"/><line x1="367.1" y1="633.2" x2="367.1" y2="643.3" stroke="#00A087" stroke-width="1.5"/><rect x="347.3" y="613.3" width="39.6" height="19.9" fill="#80CFC3" stroke="#00A087" stroke-width="1.6"/><line x1="347.3" y1="623.1" x2="386.9" y2="623.1" stroke="#00A087" stroke-width="3"/><g fill="#E64B35"><circle cx="269.7" cy="472.2" r="3.5"/><circle cx="256.3" cy="479.9" r="3.5"/><circle cx="254.4" cy="482.4" r="3.5"/><circle cx="264.1" cy="484.2" r="3.5"/><circle cx="260.5" cy="482.6" r="3.5"/><circle cx="252.5" cy="491.3" r="3.5"/><circle cx="265.9" cy="493" r="3.5"/><circle cx="245.7" cy="496.7" r="3.5"/><circle cx="261.9" cy="512" r="3.5"/><circle cx="267.8" cy="510.4" r="3.5"/><circle cx="273.1" cy="508.5" r="3.5"/><circle cx="276.8" cy="508.8" r="3.5"/><circle cx="254.4" cy="521.8" r="3.5"/><circle cx="256.9" cy="519.3" r="3.5"/><circle cx="267.1" cy="542.2" r="3.5"/><circle cx="264.6" cy="546.8" r="3.5"/><circle cx="263.7" cy="556.5" r="3.5"/></g><g fill="#4DBBD5"><circle cx="333.2" cy="496.6" r="3.5"/><circle cx="335.4" cy="499.2" r="3.5"/><circle cx="320.1" cy="510.4" r="3.5"/><circle cx="311.9" cy="513.7" r="3.5"/><circle cx="321.4" cy="521.2" r="3.5"/><circle cx="313.5" cy="524.3" r="3.5"/><circle cx="320.5" cy="524.7" r="3.5"/><circle cx="293.7" cy="523.8" r="3.5"/><circle cx="293.3" cy="529.1" r="3.5"/><circle cx="309.5" cy="528.7" r="3.5"/><circle cx="316.1" cy="530.4" r="3.5"/><circle cx="306.4" cy="533" r="3.5"/><circle cx="295.9" cy="534.8" r="3.5"/><circle cx="310.4" cy="534.8" r="3.5"/><circle cx="298.5" cy="545.3" r="3.5"/><circle cx="305.6" cy="541.8" r="3.5"/><circle cx="317" cy="544.5" r="3.5"/><circle cx="318.5" cy="527" r="3.5"/><circle cx="314" cy="519.5" r="3.5"/><circle cx="303" cy="531" r="3.5"/><circle cx="324" cy="518" r="3.5"/><circle cx="323.1" cy="544.5" r="3.5"/><circle cx="329.3" cy="540.1" r="3.5"/><circle cx="332.8" cy="540.1" r="3.5"/><circle cx="295" cy="555.8" r="3.5"/><circle cx="299.7" cy="562.4" r="3.5"/><circle cx="305.9" cy="562.4" r="3.5"/><circle cx="320.5" cy="566.5" r="3.5"/><circle cx="323.8" cy="566.8" r="3.5"/><circle cx="308" cy="582.7" r="3.5"/><circle cx="314.1" cy="596.6" r="3.5"/></g><g fill="#00A087"><circle cx="388" cy="592.3" r="3.5"/><circle cx="388" cy="602.8" r="3.5"/><circle cx="349.7" cy="601.1" r="3.5"/><circle cx="363.4" cy="599.9" r="3.5"/><circle cx="378" cy="612.2" r="3.5"/><circle cx="383.3" cy="611.9" r="3.5"/><circle cx="386.2" cy="621.6" r="3.5"/><circle cx="355" cy="622.4" r="3.5"/><circle cx="361.9" cy="622.8" r="3.5"/><circle cx="368.7" cy="629.2" r="3.5"/><circle cx="373.3" cy="626.9" r="3.5"/><circle cx="367.5" cy="632.1" r="3.5"/><circle cx="348.7" cy="632.7" r="3.5"/><circle cx="355.2" cy="635.1" r="3.5"/><circle cx="367.2" cy="634.5" r="3.5"/><circle cx="379.2" cy="635.6" r="3.5"/><circle cx="372.2" cy="646.2" r="3.5"/></g><rect x="230.6" y="378" width="167.8" height="279.2" fill="none" stroke="#666666" stroke-width="1.1"/><line x1="230.15" y1="378" x2="398.85" y2="378" stroke="#444" stroke-width="2"/><line x1="225.6" y1="422.8" x2="230.6" y2="422.8" stroke="#333" stroke-width="1.05"/><text x="210.4" y="430.2" text-anchor="middle" font-size="19.6" textLength="23.53" lengthAdjust="spacingAndGlyphs">20</text><line x1="225.6" y1="472.9" x2="230.6" y2="472.9" stroke="#333" stroke-width="1.05"/><text x="210.4" y="480.3" text-anchor="middle" font-size="19.6" textLength="23.53" lengthAdjust="spacingAndGlyphs">15</text><line x1="225.6" y1="523" x2="230.6" y2="523" stroke="#333" stroke-width="1.05"/><text x="210.4" y="530.4" text-anchor="middle" font-size="19.6" textLength="23.53" lengthAdjust="spacingAndGlyphs">10</text><line x1="225.6" y1="573" x2="230.6" y2="573" stroke="#333" stroke-width="1.05"/><text x="210.4" y="580.4" text-anchor="middle" font-size="19.6" textLength="11.77" lengthAdjust="spacingAndGlyphs">5</text><line x1="225.6" y1="623.1" x2="230.6" y2="623.1" stroke="#333" stroke-width="1.05"/><text x="210.4" y="630.5" text-anchor="middle" font-size="19.6" textLength="11.77" lengthAdjust="spacingAndGlyphs">0</text><circle cx="262" cy="674.8" r="6.7" fill="none" stroke="#000" stroke-width="1"/><text x="262" y="679" text-anchor="middle" font-size="12" font-weight="bold" stroke="#000" stroke-width="0.3">1</text><circle cx="314.4" cy="674.8" r="6.7" fill="none" stroke="#000" stroke-width="1"/><text x="314.4" y="679" text-anchor="middle" font-size="12" font-weight="bold" stroke="#000" stroke-width="0.3">2</text><circle cx="367.1" cy="674.8" r="6.7" fill="none" stroke="#000" stroke-width="1"/><text x="367.1" y="679" text-anchor="middle" font-size="12" font-weight="bold" stroke="#000" stroke-width="0.3">3</text><text x="295.95" y="405.3" text-anchor="middle" font-size="19.0" textLength="11.0" lengthAdjust="spacingAndGlyphs">p</text><text x="314.55" y="405.3" text-anchor="middle" font-size="19.0" textLength="13.7" lengthAdjust="spacingAndGlyphs">=</text><text x="333.65" y="405.3" text-anchor="middle" font-size="19.0" textLength="11.2" lengthAdjust="spacingAndGlyphs">0</text><path d="M314.4 427.35V423.35H367.1V427.35" fill="none" stroke="#000" stroke-width="2.0"/><g stroke="#000" stroke-width="1.3" stroke-linecap="butt"><path d="M329.25 410.4V420.7M324.35 412.75L334.15 418.35M324.35 418.35L334.15 412.75"/><path d="M340.75 410.4V420.7M335.85 412.75L345.65 418.35M335.85 418.35L345.65 412.75"/><path d="M352.25 410.4V420.7M347.35 412.75L357.15 418.35M347.35 418.35L357.15 412.75"/></g><path d="M262 447.8V443.8H367.1V447.8" fill="none" stroke="#000" stroke-width="2.0"/><g stroke="#000" stroke-width="1.3" stroke-linecap="butt"><path d="M303.05 430.85V441.15M298.15 433.2L307.95 438.8M298.15 438.8L307.95 433.2"/><path d="M314.55 430.85V441.15M309.65 433.2L319.45 438.8M309.65 438.8L319.45 433.2"/><path d="M326.05 430.85V441.15M321.15 433.2L330.95 438.8M321.15 438.8L330.95 433.2"/></g><path d="M262 468.2V464.2H314.4V468.2" fill="none" stroke="#000" stroke-width="2.0"/><g stroke="#000" stroke-width="1.3" stroke-linecap="butt"><path d="M282.45 451.25V461.55M277.55 453.6L287.35 459.2M277.55 459.2L287.35 453.6"/><path d="M293.95 451.25V461.55M289.05 453.6L298.85 459.2M289.05 459.2L298.85 453.6"/></g><g stroke="#E64B35" stroke-width="1.7" fill="none"><line x1="640.3" y1="217.8" x2="640.3" y2="222.8"/><line x1="640.3" y1="241.2" x2="640.3" y2="246.6"/><rect x="626.4" y="222.8" width="27.8" height="18.4" fill="#fff"/><line x1="626.4" y1="232" x2="654.2" y2="232"/></g><circle cx="640.3" cy="232" r="3.6" fill="#E64B35"/><circle cx="676.5" cy="232" r="6.7" fill="none" stroke="#000" stroke-width="1"/><text x="676.5" y="236.2" text-anchor="middle" font-size="12" font-weight="bold" stroke="#000" stroke-width="0.3">1</text><g stroke="#4DBBD5" stroke-width="1.7" fill="none"><line x1="640.3" y1="254" x2="640.3" y2="259"/><line x1="640.3" y1="277.4" x2="640.3" y2="282.8"/><rect x="626.4" y="259" width="27.8" height="18.4" fill="#fff"/><line x1="626.4" y1="268.2" x2="654.2" y2="268.2"/></g><circle cx="640.3" cy="268.2" r="3.6" fill="#4DBBD5"/><circle cx="676.5" cy="268.2" r="6.7" fill="none" stroke="#000" stroke-width="1"/><text x="676.5" y="272.4" text-anchor="middle" font-size="12" font-weight="bold" stroke="#000" stroke-width="0.3">2</text><g stroke="#00A087" stroke-width="1.7" fill="none"><line x1="640.3" y1="290.2" x2="640.3" y2="295.2"/><line x1="640.3" y1="313.6" x2="640.3" y2="319"/><rect x="626.4" y="295.2" width="27.8" height="18.4" fill="#fff"/><line x1="626.4" y1="304.4" x2="654.2" y2="304.4"/></g><circle cx="640.3" cy="304.4" r="3.6" fill="#00A087"/><circle cx="676.5" cy="304.4" r="6.7" fill="none" stroke="#000" stroke-width="1"/><text x="676.5" y="308.6" text-anchor="middle" font-size="12" font-weight="bold" stroke="#000" stroke-width="0.3">3</text></svg></body></html>
